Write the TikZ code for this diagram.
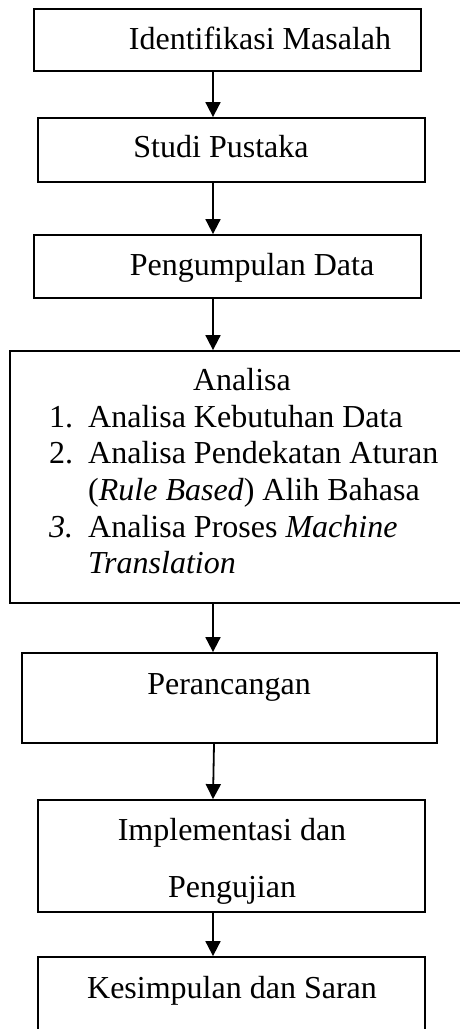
\documentclass[tikz,border=0pt]{standalone}
\usepackage{fontspec}
\setmainfont{Liberation Serif}
\usetikzlibrary{arrows.meta}
\begin{document}
\begin{tikzpicture}[x=1pt,y=-1pt,
  box/.style={draw=black,line width=1.8pt,fill=white,inner sep=0pt,minimum width=#1},
  txt/.style={inner sep=0pt,anchor=base,font=\fontsize{32}{37}\selectfont},
  ltxt/.style={inner sep=0pt,anchor=base west,font=\fontsize{32}{37}\selectfont},
  arr/.style={line width=1.8pt,-{Triangle[length=15pt,width=15pt]}}]
\useasboundingbox (0,0) rectangle (460,1029);
\fill[white] (0,0) rectangle (460,1029);
\coordinate (xa) at (213,0);
\node[box=387pt,minimum height=62pt] (b1) at (227.5,40) {};
\node[box=387pt,minimum height=64pt] (b2) at (231.5,150) {};
\node[box=387pt,minimum height=63pt] (b3) at (227.5,266.5) {};
\node[box=470pt,minimum height=252pt] (b4) at (245,477) {};
\node[box=415pt,minimum height=90pt] (b5) at (229.5,698) {};
\node[box=387pt,minimum height=112pt] (b6) at (231.5,856) {};
\node[box=387pt,minimum height=90pt] (b7) at (231.5,1002) {};
\node[txt] (t1) at (260,49) {Identifikasi Masalah};
\node[txt] (t2) at (221,157) {Studi Pustaka};
\node[txt] (t3) at (252,275) {Pengumpulan Data};
\node[txt] (t4) at (242,390) {Analisa};
\node[ltxt] (n1) at (49,427) {1.};
\node[ltxt] (i1) at (88,427) {Analisa Kebutuhan Data};
\node[ltxt] (n2) at (49,463) {2.};
\node[ltxt] (i2) at (88,463) {Analisa Pendekatan Aturan};
\node[ltxt] (i2b) at (88,500) {(\textit{Rule Based}) Alih Bahasa};
\node[ltxt] (n3) at (49,537) {\textit{3.}};
\node[ltxt] (i3) at (88,537) {Analisa Proses \textit{Machine}};
\node[ltxt] (i3b) at (88,573) {\textit{Translation}};
\node[txt] (t5) at (229,694) {Perancangan};
\node[txt] (t6) at (232,840) {Implementasi dan};
\node[txt] (t6b) at (232,897) {Pengujian};
\node[txt] (t7) at (232,998) {Kesimpulan dan Saran};
\draw[arr] (b1.south -| xa) -- (b2.north -| xa);
\draw[arr] (b2.south -| xa) -- (b3.north -| xa);
\draw[arr] (b3.south -| xa) -- (b4.north -| xa);
\draw[arr] (b4.south -| xa) -- (b5.north -| xa);
\draw[arr] ([xshift=1pt]b5.south -| xa) -- (b6.north -| xa);
\draw[arr] (b6.south -| xa) -- (b7.north -| xa);
\end{tikzpicture}
\end{document}
